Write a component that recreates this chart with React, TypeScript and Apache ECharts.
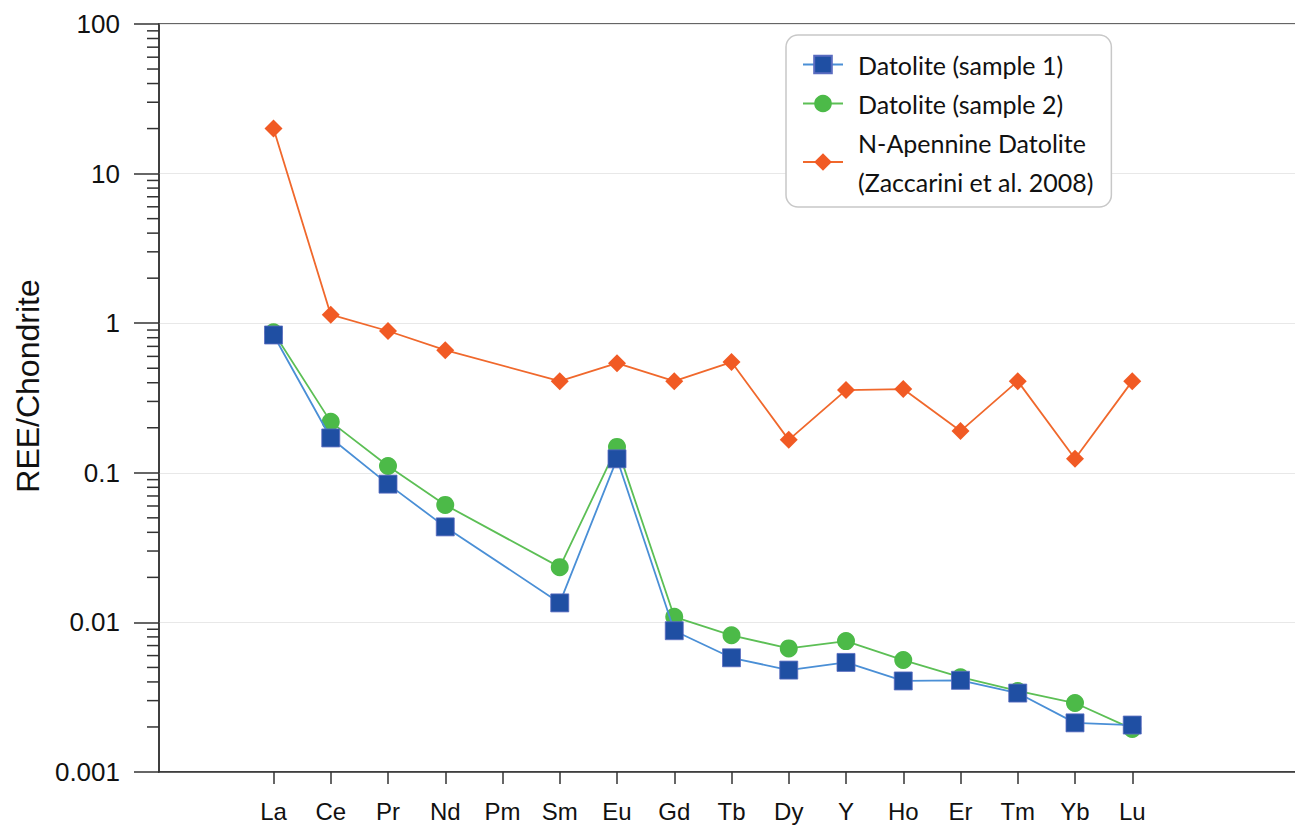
import React, { useEffect, useRef } from "react";
import * as echarts from "echarts";

const categories = ["La", "Ce", "Pr", "Nd", "Pm", "Sm", "Eu", "Gd", "Tb", "Dy", "Y", "Ho", "Er", "Tm", "Yb", "Lu"];
const sample1 = [0.834, 0.171, 0.084, 0.0435, null, 0.0135, 0.124, 0.0088, 0.0058, 0.0048, 0.0054, 0.00406, 0.0041, 0.00337, 0.00213, 0.00206];
const sample2 = [0.87, 0.219, 0.111, 0.061, null, 0.0234, 0.149, 0.0109, 0.0082, 0.0067, 0.0075, 0.0056, 0.0043, 0.00348, 0.00289, 0.00194];
const apennine = [20, 1.14, 0.887, 0.66, null, 0.41, 0.54, 0.41, 0.55, 0.166, 0.357, 0.363, 0.19, 0.41, 0.124, 0.41];
const yTickLabels = ["0.001", "0.01", "0.1", "1", "10", "100"];
const minorMultipliers = [2, 3, 4, 5, 6, 7, 8, 9];
const decades = [0.001, 0.01, 0.1, 1, 10];
const seriesNames = ["Datolite (sample 1)", "Datolite (sample 2)", "N-Apennine Datolite\n(Zaccarini et al. 2008)"];

const X_OFFSET = 2; // categories start at the third slot of the axis
const xPositions = categories.map((_, i) => i + X_OFFSET);
const toData = (vals: (number | null)[]) => vals.map((v, i) => [xPositions[i], v]);
const minorTicks = decades.flatMap((d) => minorMultipliers.map((m) => [0, +(m * d).toPrecision(3)]));

export default function App() {
  const ref = useRef<HTMLDivElement>(null);
  useEffect(() => {
    if (!ref.current) return;
    const chart = echarts.init(ref.current, null, { renderer: "svg" });
    const axisColor = "#333";
    chart.setOption({
      animation: false,
      backgroundColor: "#fff",
      grid: {
        left: 159,
        top: 24,
        width: 1145,
        height: 748,
        outerBoundsMode: "none",
        containLabel: false,
        show: true,
        borderColor: axisColor,
        borderWidth: 1.5,
        backgroundColor: "transparent",
      },
      legend: {
        data: seriesNames,
        orient: "vertical",
        left: 786,
        top: 35,
        padding: [10, 18, 6, 16],
        itemWidth: 40,
        itemHeight: 22,
        itemGap: 0,
        backgroundColor: "#fff",
        borderColor: "#c8c8c8",
        borderWidth: 1.5,
        borderRadius: 12,
        textStyle: {
          fontFamily: "Lato",
          fontSize: 25,
          lineHeight: 39,
          color: "#111",
          padding: [0, 0, 0, 10],
        },
      },
      xAxis: {
        type: "value",
        min: 0,
        max: 20,
        interval: 1,
        splitLine: { show: false },
        axisLine: { show: true, onZero: false, lineStyle: { color: axisColor, width: 1.5 } },
        axisTick: {
          show: true,
          inside: false,
          length: 12,
          customValues: xPositions,
          lineStyle: { color: axisColor, width: 1.5 },
        },
        axisLabel: {
          customValues: xPositions,
          formatter: (v: number) => categories[Math.round(v) - X_OFFSET] ?? "",
          fontFamily: "Liberation Sans",
          fontSize: 24,
          color: "#111",
          margin: 27,
        },
      },
      yAxis: {
        type: "log",
        logBase: 10,
        min: 0.001,
        max: 100,
        name: "REE/Chondrite",
        nameLocation: "middle",
        nameGap: 110,
        nameTextStyle: { fontFamily: "Liberation Sans", fontSize: 32, color: "#111", padding: [0, 0, 0, 24] },
        axisLine: { show: true, lineStyle: { color: axisColor, width: 1.5 } },
        axisTick: { show: true, inside: false, length: 25, lineStyle: { color: axisColor, width: 1.5 } },
        splitLine: { show: true, lineStyle: { color: "#e8e8e8", width: 1.2 } },
        axisLabel: {
          fontFamily: "Liberation Sans",
          fontSize: 26,
          color: "#111",
          margin: 39,
          formatter: (v: number) => yTickLabels[Math.round(Math.log10(v)) + 3] ?? "",
        },
      },
      series: [
        {
          type: "custom",
          name: "minorTicks",
          silent: true,
          clip: false,
          data: minorTicks,
          renderItem: (params: any, api: any) => {
            const p = api.coord([api.value(0), api.value(1)]);
            return {
              type: "line",
              shape: { x1: p[0] - 12, y1: p[1], x2: p[0], y2: p[1] },
              style: { stroke: axisColor, lineWidth: 1.5 },
            };
          },
          z: 5,
        },
        {
          type: "line",
          name: seriesNames[2],
          data: toData(apennine),
          connectNulls: true,
          symbol: "diamond",
          symbolSize: 18,
          lineStyle: { color: "#f0682c", width: 1.8 },
          itemStyle: { color: "#f15a24" },
          z: 2,
        },
        {
          type: "line",
          name: seriesNames[1],
          data: toData(sample2),
          connectNulls: true,
          symbol: "circle",
          symbolSize: 18,
          lineStyle: { color: "#5cbf55", width: 1.8 },
          itemStyle: { color: "#4cba48" },
          z: 3,
        },
        {
          type: "line",
          name: seriesNames[0],
          data: toData(sample1),
          connectNulls: true,
          symbol: "rect",
          symbolSize: 18,
          lineStyle: { color: "#4a8fd6", width: 1.8 },
          itemStyle: { color: "#1f4fa3", borderColor: "#5a6cc0", borderWidth: 0.8 },
          z: 4,
        },
      ],
    });
    return () => chart.dispose();
  }, []);
  return (
    <div
      style={{ position: "fixed", left: 0, top: 0, width: 1295, height: 828, overflow: "hidden", background: "#fff" }}
    >
      <div ref={ref} style={{ width: 1320, height: 828 }} />
    </div>
  );
}
